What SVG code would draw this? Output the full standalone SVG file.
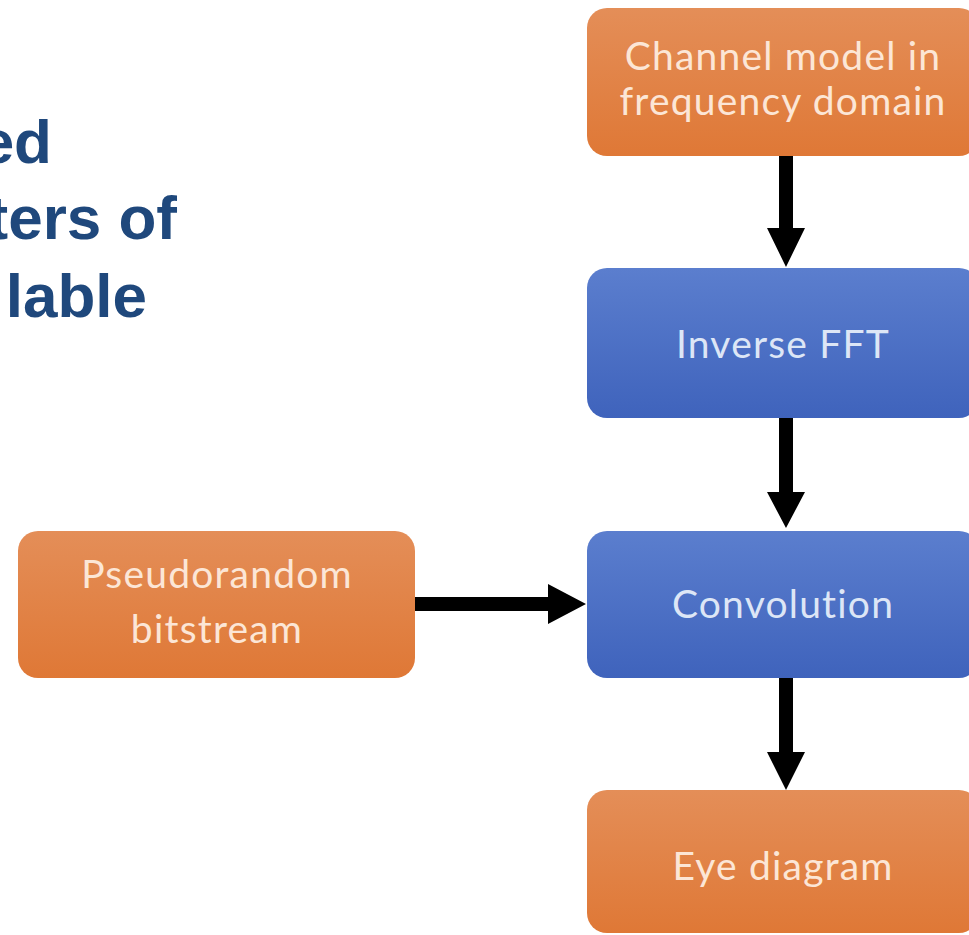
<svg xmlns="http://www.w3.org/2000/svg" width="969" height="935" viewBox="0 0 969 935">
<defs>
<linearGradient id="og" x1="0" y1="0" x2="0" y2="1">
<stop offset="0" stop-color="#E48E58"/>
<stop offset="1" stop-color="#DF7836"/>
</linearGradient>
<linearGradient id="bg" x1="0" y1="0" x2="0" y2="1">
<stop offset="0" stop-color="#5B7ECE"/>
<stop offset="1" stop-color="#3F63BC"/>
</linearGradient>
<style>
.title{font-family:"Liberation Sans",Arial,sans-serif;font-weight:bold;font-size:62px;fill:#1F487C;text-anchor:end}
.orange{fill:url(#og)}
.blue{fill:url(#bg)}
.lbl{font-family:Lato,"Open Sans",sans-serif;font-size:39px;letter-spacing:1.2px;text-anchor:middle}
.lo{fill:#FCE6D6}
.lb{fill:#DDE6F6}
.arrow{fill:#000}
</style>
</defs>
<rect width="969" height="935" fill="#FFFFFF"/>
<g id="title">
<text class="title" x="52" y="163">ed</text>
<text class="title" x="177" y="239">ters of</text>
<text class="title" x="147" y="317">lable</text>
</g>
<g id="connectors">
<polygon class="arrow" points="779,155 793,155 793,228 805,228 786,267 767,228 779,228"/>
<polygon class="arrow" points="779,418 793,418 793,492 805,492 786,528 767,492 779,492"/>
<polygon class="arrow" points="779,677 793,677 793,752 805,752 786,790 767,752 779,752"/>
<polygon class="arrow" points="415,597 548,597 548,584 586,604 548,624 548,611 415,611"/>
</g>
<g id="node-channel">
<rect class="orange" x="587" y="8" width="392" height="148" rx="20"/>
<text class="lbl lo" x="783" y="70">Channel model in</text>
<text class="lbl lo" x="783" y="115">frequency domain</text>
</g>
<g id="node-ifft">
<rect class="blue" x="587" y="268" width="392" height="150" rx="20"/>
<text class="lbl lb" x="783" y="358">Inverse FFT</text>
</g>
<g id="node-conv">
<rect class="blue" x="587" y="531" width="392" height="147" rx="20"/>
<text class="lbl lb" x="783" y="618">Convolution</text>
</g>
<g id="node-prbs">
<rect class="orange" x="18" y="531" width="397" height="147" rx="20"/>
<text class="lbl lo" x="217" y="588">Pseudorandom</text>
<text class="lbl lo" x="217" y="643">bitstream</text>
</g>
<g id="node-eye">
<rect class="orange" x="587" y="790" width="392" height="143" rx="20"/>
<text class="lbl lo" x="783" y="880">Eye diagram</text>
</g>
</svg>
